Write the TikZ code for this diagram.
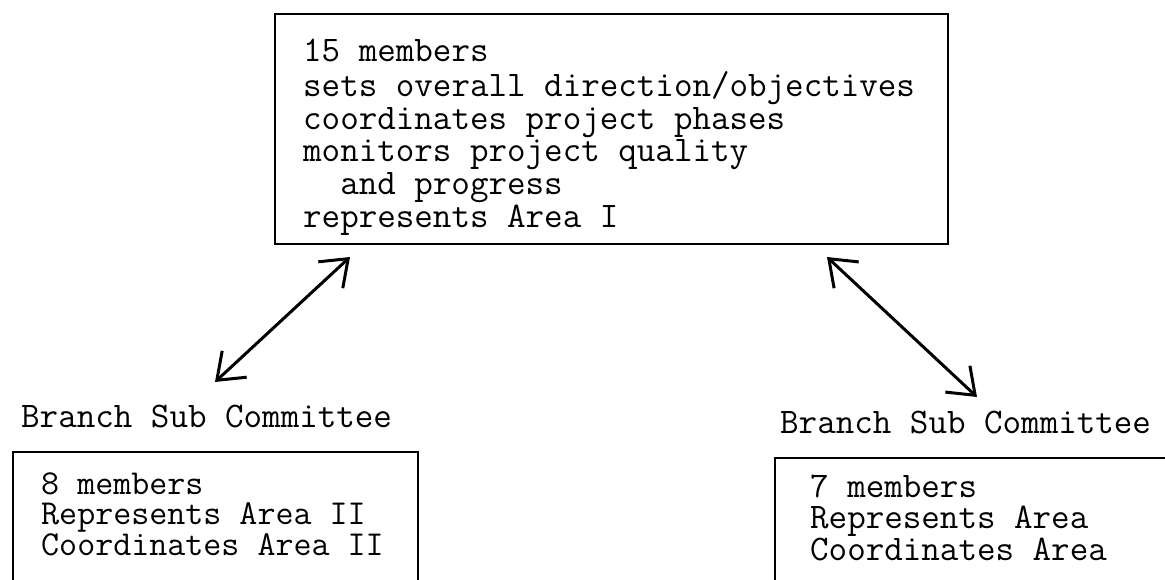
\documentclass[tikz,border=0pt]{standalone}
\usepackage{fontspec}
\usetikzlibrary{arrows.meta}
\newcommand{\lines}[1]{\begin{tabular}[t]{@{}l@{}}#1\end{tabular}}
\tikzset{
  frame/.style={draw=black, line width=2pt},
  txt/.style={anchor=base west, inner sep=0pt,
    font=\ttfamily\fontsize{36}{32.6}\selectfont},
  link/.style={line width=3pt, line cap=round, line join=round,
    {Straight Barb[length=24pt,width=36pt,line width=3pt]}-{Straight Barb[length=24pt,width=36pt,line width=3pt]}}
}
\begin{document}
\begin{tikzpicture}[x=1pt,y=-1pt]
\useasboundingbox (0,0) rectangle (1165,580);
\clip (0,0) rectangle (1165,580);
% frames
\node[frame, anchor=north west, minimum width=673pt, minimum height=230pt, inner sep=0pt] (topbox) at (274,13) {};
\node[frame, anchor=north west, minimum width=405pt, minimum height=200pt, inner sep=0pt] (leftbox) at (12,451) {};
\node[frame, anchor=north west, minimum width=440pt, minimum height=200pt, inner sep=0pt] (rightbox) at (774,457) {};
% texts
\node[txt] (toptext) at (303,62) {\lines{15 members\\sets overall direction/objectives\\coordinates project phases\\monitors project quality\\\ \ and progress\\represents Area I}};
\node[txt] (leftlbl) at (21,427) {Branch Sub Committee};
\node[txt] (rightlbl) at (780,433) {Branch Sub Committee};
\node[txt, font=\ttfamily\fontsize{35}{30.4}\selectfont] (lefttext) at (41,494) {\lines{8 members\\Represents Area II\\Coordinates Area II}};
\node[txt, font=\ttfamily\fontsize{36}{31.5}\selectfont] (righttext) at (810,497) {\lines{7 members\\Represents Area\\Coordinates Area}};
% arrows
\coordinate (la) at (350,257);
\coordinate (lb) at (215,382);
\coordinate (ra) at (827,257);
\coordinate (rb) at (977,397);
\draw[link] (lb) -- (la);
\draw[link] (ra) -- (rb);
\end{tikzpicture}
\end{document}
